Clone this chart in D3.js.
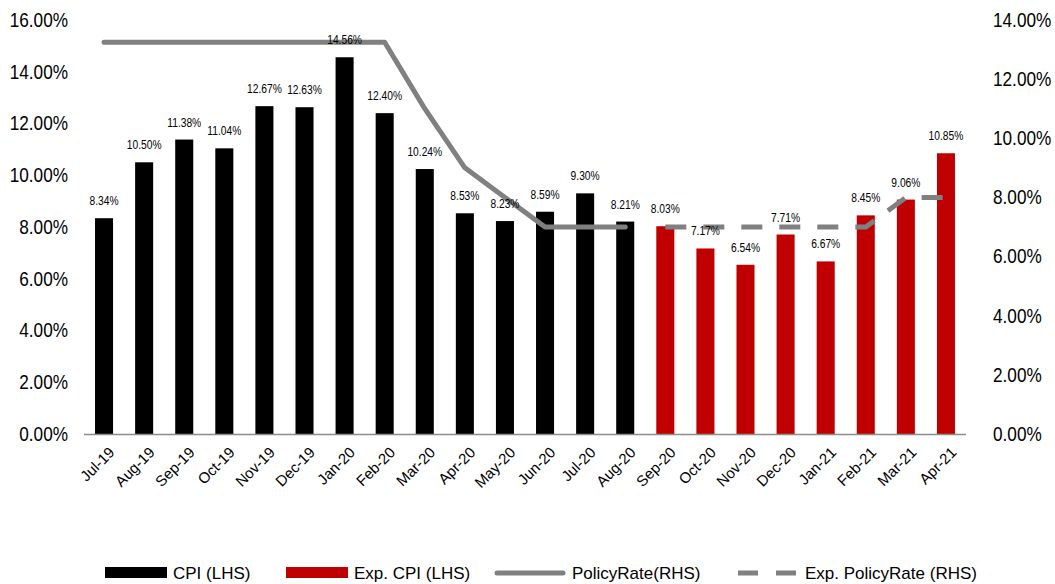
<!DOCTYPE html>
<html>
<head>
<meta charset="utf-8">
<script src="https://cdn.jsdelivr.net/npm/d3@7"></script>
<style>
  body { margin: 0; background: #fff; }
  text { font-family: "Liberation Sans Narrow", "Arial Narrow", "Liberation Sans", sans-serif; fill: #000; }
</style>
</head>
<body>
<div class="chart_holder"></div>
<script>
const months = ["Jul-19","Aug-19","Sep-19","Oct-19","Nov-19","Dec-19","Jan-20","Feb-20","Mar-20","Apr-20","May-20",
    "Jun-20","Jul-20","Aug-20","Sep-20","Oct-20","Nov-20","Dec-20","Jan-21","Feb-21","Mar-21","Apr-21"]

// CPI actual (black) and expected (red) in %
const cpi = [8.34, 10.50, 11.38, 11.04, 12.67, 12.63, 14.56, 12.40, 10.24, 8.53, 8.23, 8.59, 9.30, 8.21]
const exp_cpi = [8.03, 7.17, 6.54, 7.71, 6.67, 8.45, 9.06, 10.85]

// policy rate, actual then expected
const policy_rate = [13.25, 13.25, 13.25, 13.25, 13.25, 13.25, 13.25, 13.25, 11.00, 9.00, 8.00, 7.00, 7.00, 7.00]
const exp_policy_rate = [7.00, 7.00, 7.00, 7.00, 7.00, 7.00, 8.00, 8.00]

const left_ticks = [0, 2, 4, 6, 8, 10, 12, 14, 16]
const right_ticks = [0, 2, 4, 6, 8, 10, 12, 14]

const legend_items = ["CPI (LHS)", "Exp. CPI (LHS)", "PolicyRate(RHS)", "Exp. PolicyRate (RHS)"]


const width = 1055
const height = 584
const margin = { top: 20, right: 89, bottom: 150, left: 84 }

const bars = months.map((m, i) => ({
    month: m,
    value: i < cpi.length ? cpi[i] : exp_cpi[i - cpi.length],
    expected: i >= cpi.length
}))

const rate_actual = policy_rate.map((v, i) => ({ month: months[i], value: v }))
const rate_exp = exp_policy_rate.map((v, i) => ({ month: months[i + policy_rate.length], value: v }))

const svg = d3.select(".chart_holder")
    .append("svg")
    .attr("width", width)
    .attr("height", height)

const x = d3.scaleBand()
    .domain(months)
    .range([margin.left, width - margin.right])
    .paddingInner(0.55)
    .paddingOuter(0.275)

const y_left = d3.scaleLinear()
    .domain([0, 16])
    .range([height - margin.bottom, margin.top])

const y_right = d3.scaleLinear()
    .domain([0, 14])
    .range([height - margin.bottom, margin.top])

const fmt = d => d.toFixed(2) + "%"

// left axis labels
svg.append("g")
    .attr("transform", `translate(${margin.left - 16},0)`)
    .call(d3.axisLeft(y_left).tickValues(left_ticks).tickFormat(fmt).tickSize(0).tickPadding(0))
    .call(g => g.select(".domain").remove())
    .selectAll("text")
    .attr("transform", "scale(0.86,1)")
    .style("font-size", "20px")

// right axis labels
svg.append("g")
    .attr("transform", `translate(${width - margin.right + 27},0)`)
    .call(d3.axisRight(y_right).tickValues(right_ticks).tickFormat(fmt).tickSize(0).tickPadding(0))
    .call(g => g.select(".domain").remove())
    .selectAll("text")
    .attr("transform", "scale(0.86,1)")
    .style("font-size", "20px")

// bars
svg.append("g")
    .selectAll("rect")
    .data(bars)
    .join("rect")
    .attr("x", d => x(d.month))
    .attr("width", x.bandwidth())
    .attr("y", d => y_left(d.value))
    .attr("height", d => y_left(0) - y_left(d.value))
    .attr("fill", d => d.expected ? "#C00000" : "#000000")

// baseline
svg.append("line")
    .attr("x1", margin.left)
    .attr("x2", width - margin.right)
    .attr("y1", y_left(0) + 0.5)
    .attr("y2", y_left(0) + 0.5)
    .attr("stroke", "#8c8c8c")
    .attr("stroke-width", 1.5)

// x labels
svg.append("g")
    .selectAll("text")
    .data(months)
    .join("text")
    .attr("transform", d => `translate(${x(d) + x.bandwidth() / 2 + 4},${y_left(0) + 12}) rotate(-45)`)
    .attr("text-anchor", "end")
    .attr("dy", "0.7em")
    .style("font-size", "15px")
    .text(d => d)

// policy rate lines
const line = d3.line()
    .x(d => x(d.month) + x.bandwidth() / 2)
    .y(d => y_right(d.value))

svg.append("path")
    .datum(rate_actual)
    .attr("d", line)
    .attr("fill", "none")
    .attr("stroke", "#808080")
    .attr("stroke-width", 5)
    .attr("stroke-linecap", "round")
    .attr("stroke-linejoin", "round")

svg.append("path")
    .datum(rate_exp)
    .attr("d", line)
    .attr("fill", "none")
    .attr("stroke", "#808080")
    .attr("stroke-width", 5)
    .attr("stroke-dasharray", "21,17")

// value labels
svg.append("g")
    .selectAll("text")
    .data(bars)
    .join("text")
    .attr("transform", d => `translate(${x(d.month) + x.bandwidth() / 2},${y_left(d.value) - 13}) scale(0.82,1)`)
    .attr("text-anchor", "middle")
    .style("font-size", "12.5px")
    .text(d => fmt(d.value))

// legend
const legend = svg.append("g").attr("transform", `translate(0,573)`)
const legend_x = [105, 286, 495, 738]

legend_items.forEach((name, i) => {
    const g = legend.append("g").attr("transform", `translate(${legend_x[i]},0)`)
    if (i < 2) {
        g.append("rect")
            .attr("x", 0).attr("y", -6)
            .attr("width", 62).attr("height", 11)
            .attr("fill", i == 0 ? "#000000" : "#C00000")
    } else {
        g.append("line")
            .attr("x1", i == 2 ? 2 : 0).attr("x2", i == 2 ? 68 : 58)
            .attr("stroke", "#808080")
            .attr("stroke-width", 5)
            .attr("stroke-linecap", i == 2 ? "round" : "butt")
            .attr("stroke-dasharray", i == 3 ? "20,18" : null)
    }
    g.append("text")
        .attr("x", i < 2 ? 68 : (i == 2 ? 77 : 67))
        .attr("dy", "0.35em")
        .style("font-size", "17px")
        .text(name)
})
</script>
</body>
</html>
